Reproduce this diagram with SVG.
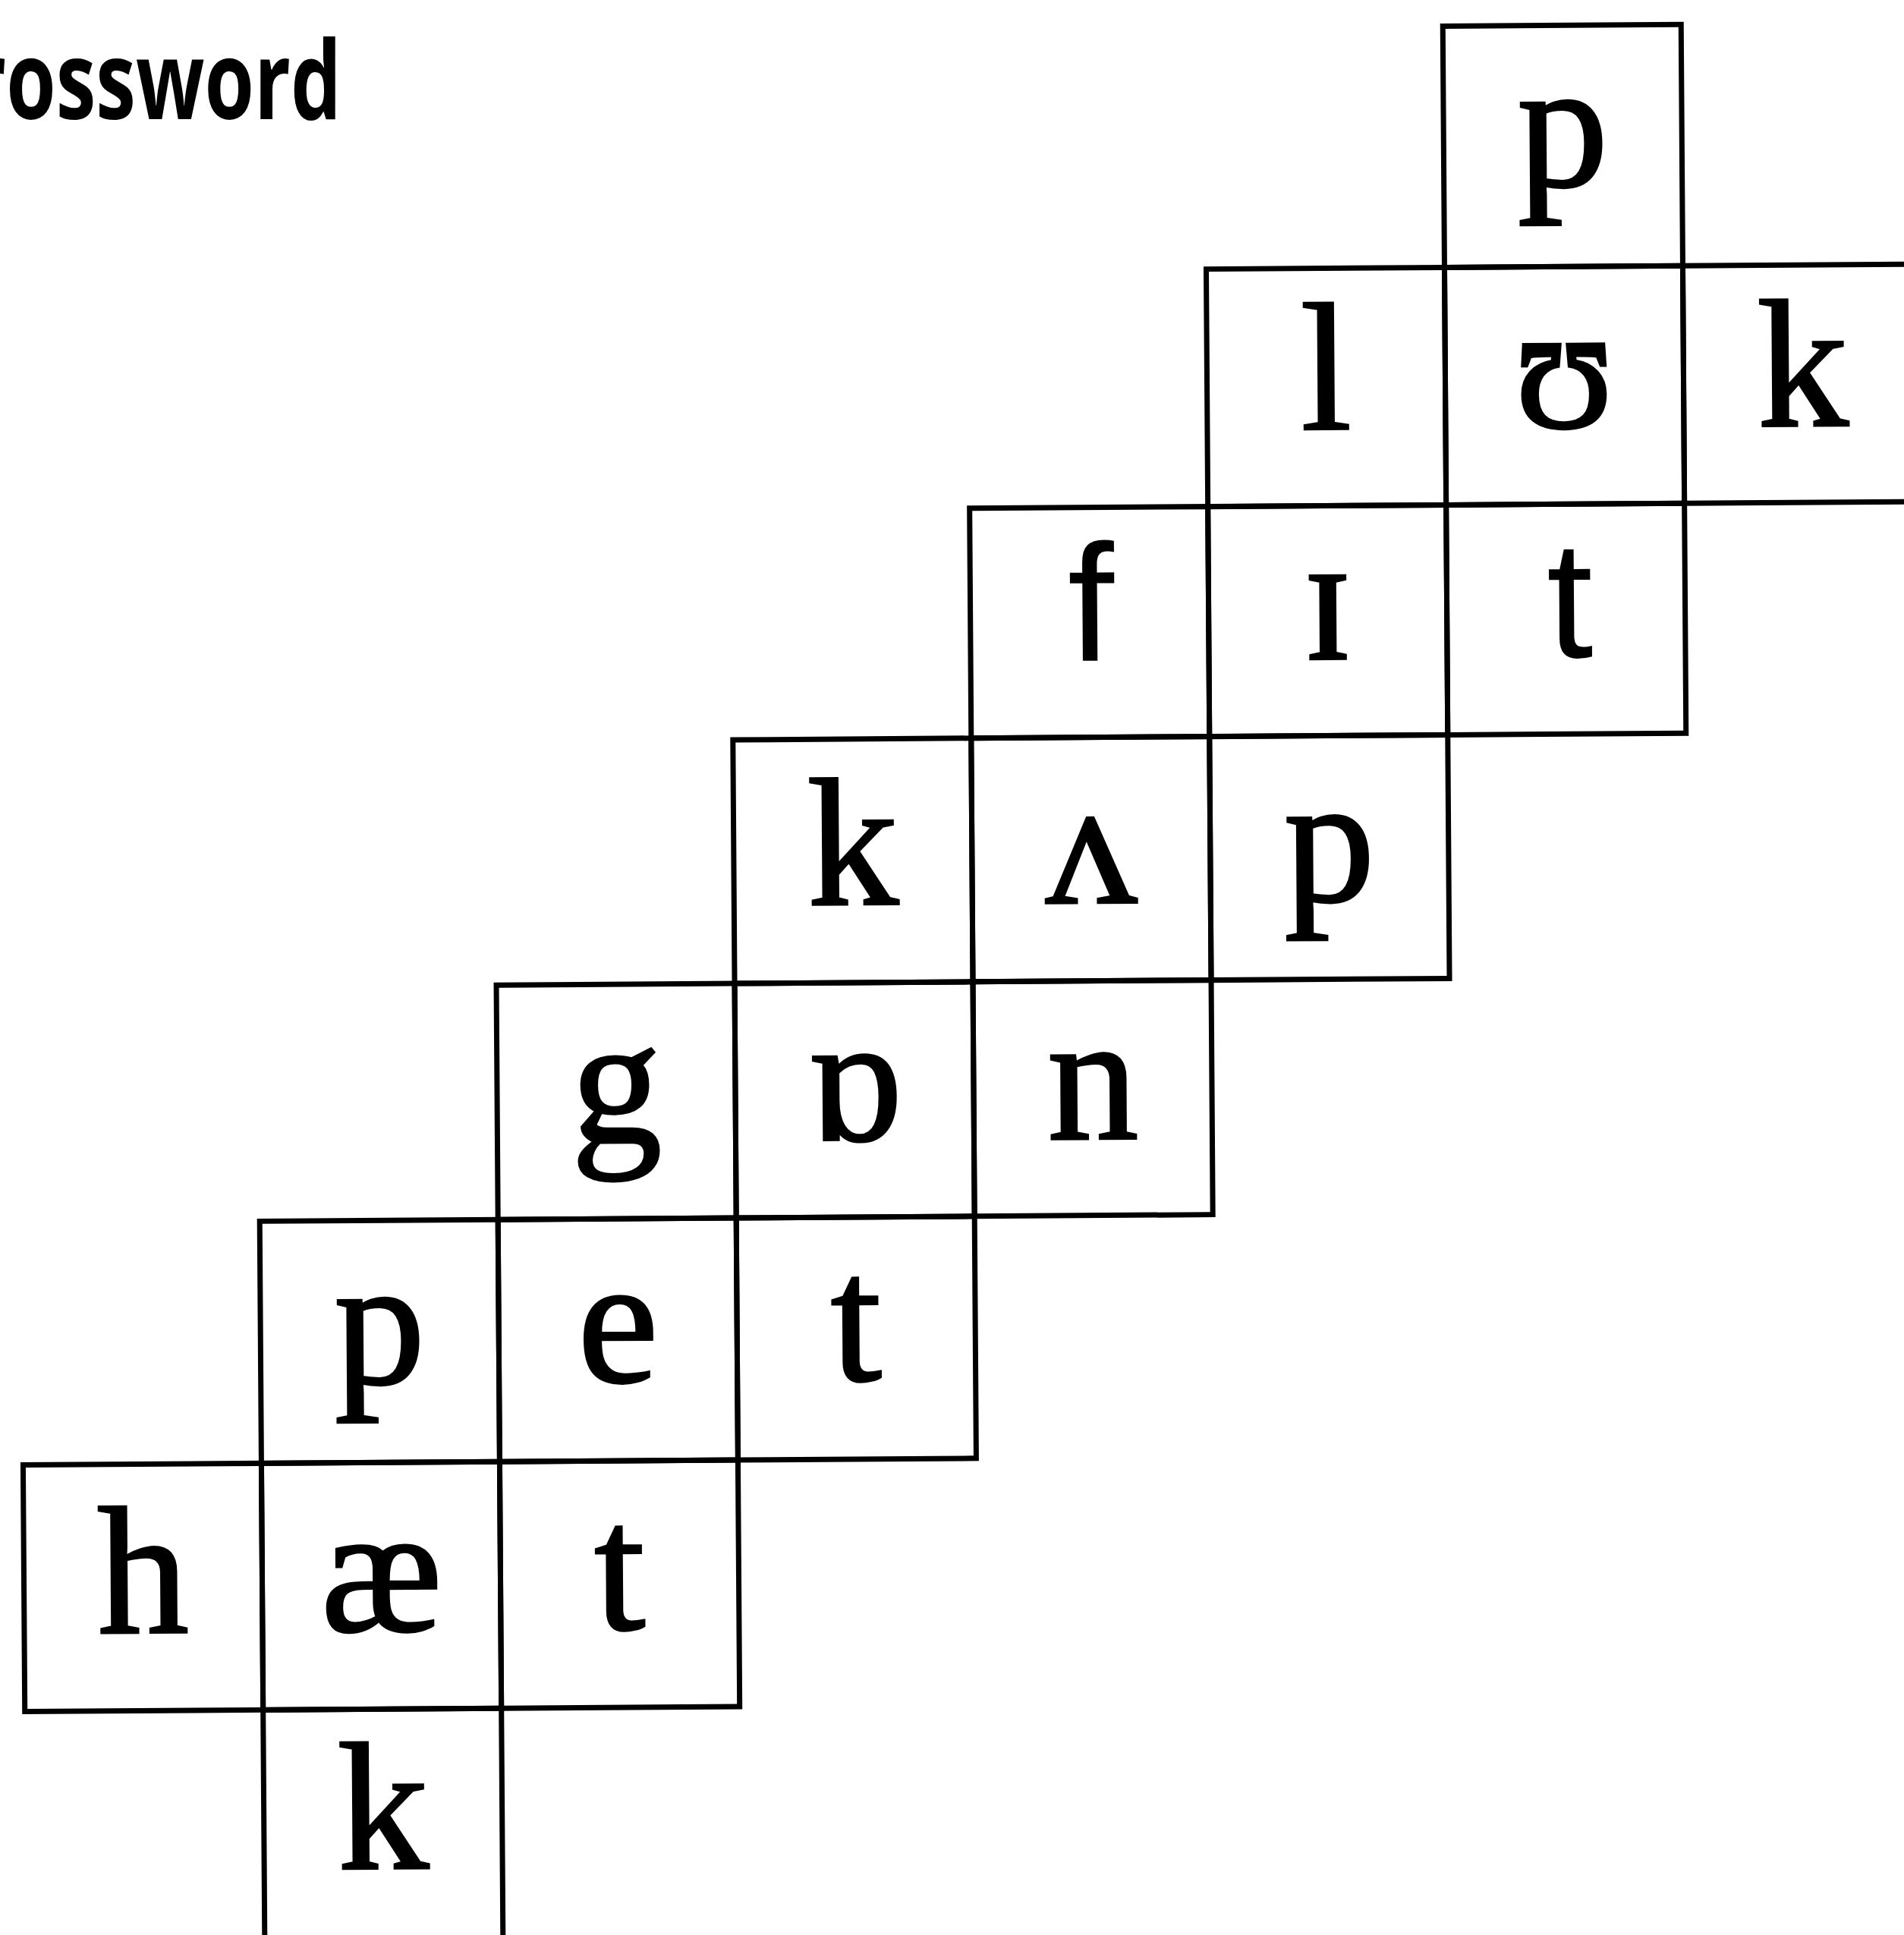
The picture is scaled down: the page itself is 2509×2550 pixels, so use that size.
<svg xmlns="http://www.w3.org/2000/svg" width="2509" height="2550" viewBox="0 0 2509 2550">
  <style>
    .box { fill: none; stroke: #000; stroke-width: 7; }
    .ipa { font-family: "Liberation Serif", "Times New Roman", Tinos, "Nimbus Roman", Times, serif; font-size: 240px; text-anchor: middle; fill: #000; stroke: #000; stroke-width: 3px; }
    .hand { font-family: "Liberation Sans", "DejaVu Sans", sans-serif; font-size: 220px; text-anchor: middle; fill: #000; }
    .title { font-family: "Open Sans", "Liberation Sans", sans-serif; font-weight: 700; font-size: 143px; text-anchor: end; fill: #000; }
  </style>
  <rect x="0" y="0" width="2509" height="2550" fill="#fff"/>
  <g id="title">
    <text class="title" transform="translate(450,157) scale(0.74,1)" x="0" y="0">rossword</text>
  </g>
  <g id="grid" transform="rotate(-0.4 1255 1290)">
    <g id="cell-A6"><rect class="box" x="1910" y="39" width="314" height="318"/><text class="ipa" x="2067" y="251">p</text></g>
    <g id="cell-B5"><rect class="box" x="1596" y="357" width="314" height="313"/><text class="ipa" x="1753" y="569">l</text></g>
    <g id="cell-B6"><rect class="box" x="1910" y="357" width="314" height="313"/><text class="ipa" x="2067" y="569">ʊ</text></g>
    <g id="cell-B7"><rect class="box" x="2224" y="357" width="314" height="313"/><text class="ipa" x="2381" y="569">k</text></g>
    <g id="cell-C4"><rect class="box" x="1282" y="670" width="314" height="303"/><text class="hand" x="1441" y="872">f</text></g>
    <g id="cell-C5"><rect class="box" x="1596" y="670" width="314" height="303"/><text class="ipa" x="1753" y="872">ɪ</text></g>
    <g id="cell-C6"><rect class="box" x="1910" y="670" width="314" height="303"/><text class="hand" x="2072" y="872">t</text></g>
    <g id="cell-D3"><rect class="box" x="968" y="973" width="314" height="321"/><text class="ipa" x="1125" y="1191">k</text></g>
    <g id="cell-D4"><rect class="box" x="1282" y="973" width="314" height="321"/><text class="ipa" x="1439" y="1191">ʌ</text></g>
    <g id="cell-D5"><rect class="box" x="1596" y="973" width="314" height="321"/><text class="ipa" x="1753" y="1191">p</text></g>
    <g id="cell-E2"><rect class="box" x="654" y="1294" width="314" height="309"/><text class="ipa" x="811" y="1502">g</text></g>
    <g id="cell-E3"><rect class="box" x="968" y="1294" width="314" height="309"/><text class="ipa" x="1125" y="1502">ɒ</text></g>
    <g id="cell-E4"><rect class="box" x="1282" y="1294" width="314" height="309"/><text class="ipa" x="1439" y="1502">n</text></g>
    <g id="cell-F1"><rect class="box" x="340" y="1603" width="314" height="319"/><text class="ipa" x="497" y="1818">p</text></g>
    <g id="cell-F2"><rect class="box" x="654" y="1603" width="314" height="319"/><text class="ipa" x="811" y="1818">e</text></g>
    <g id="cell-F3"><rect class="box" x="968" y="1603" width="314" height="319"/><text class="ipa" x="1125" y="1818">t</text></g>
    <g id="cell-G0"><rect class="box" x="26" y="1922" width="314" height="325"/><text class="ipa" x="183" y="2144">h</text></g>
    <g id="cell-G1"><rect class="box" x="340" y="1922" width="314" height="325"/><text class="ipa" x="497" y="2144">æ</text></g>
    <g id="cell-G2"><rect class="box" x="654" y="1922" width="314" height="325"/><text class="ipa" x="811" y="2144">t</text></g>
    <g id="cell-H1"><rect class="box" x="340" y="2247" width="314" height="380"/><text class="ipa" x="497" y="2457">k</text></g>
  </g>
  <g id="connectors"/>
</svg>
